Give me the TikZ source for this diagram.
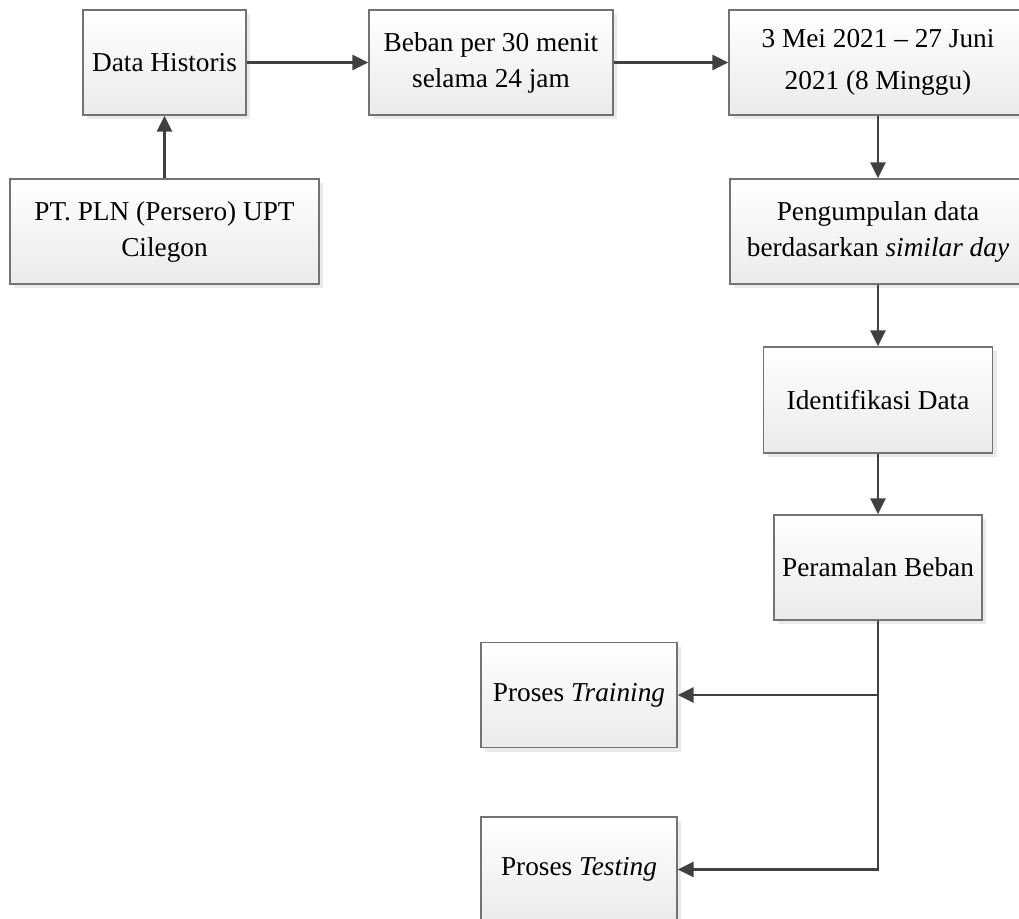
\documentclass[tikz,border=0pt]{standalone}
\usepackage{fontspec}
\setmainfont{Liberation Serif}
\usetikzlibrary{arrows.meta,shadows}

\begin{document}
\begin{tikzpicture}[x=1pt,y=-1pt]
        \tikzset{box/.style={draw=black!55,line width=1.3pt,rectangle,inner sep=0pt,
                align=center,minimum height=105pt,
                top color=white,bottom color=black!8,
                drop shadow={shadow xshift=4pt,shadow yshift=-4pt,fill=black!16},
                font=\fontsize{27.3}{36}\selectfont},
            line/.style={draw=black!75,line width=2.8pt,-{Triangle[length=16pt,width=15pt]}}}
        \useasboundingbox (0,0) rectangle (1019,918);
        % top row
        \node[box,minimum width=163pt] (hist) at (164.5,62.5) {Data Historis};
        \node[box,minimum width=244pt] (beban) at (491,62.5) {Beban per 30 menit\\selama 24 jam};
        \node[box,minimum width=298pt,font=\fontsize{27.3}{42}\selectfont] (periode) at (878,62.5)
                {3 Mei 2021 -- 27 Juni\\2021 (8 Minggu)};
        \node[box,minimum width=309pt] (pln) at (164.5,231.5) {PT. PLN (Persero) UPT\\Cilegon};
        % right column
        \node[box,minimum width=296pt] (kumpul) at (878,231.5)
                {Pengumpulan data\\berdasarkan \textit{similar day}};
        \node[box,minimum width=229pt,minimum height=106pt] (ident) at (878,400) {Identifikasi Data};
        \node[box,minimum width=208pt] (ramal) at (878,567.5) {Peramalan Beban};
        \node[box,minimum width=196pt] (train) at (579,695) {Proses \textit{Training}};
        \node[box,minimum width=196pt] (test) at (579,869.5) {Proses \textit{Testing}};
        % connectors
        \draw[line] (pln) -- (hist);
        \draw[line] (hist) -- (beban);
        \draw[line] (beban) -- (periode);
        \draw[line] (periode) -- (kumpul);
        \draw[line] (kumpul) -- (ident);
        \draw[line] (ident) -- (ramal);
        \draw[line] (ramal.south) |- (train);
        \draw[line] (ramal.south) |- (test);
\end{tikzpicture}
\end{document}
